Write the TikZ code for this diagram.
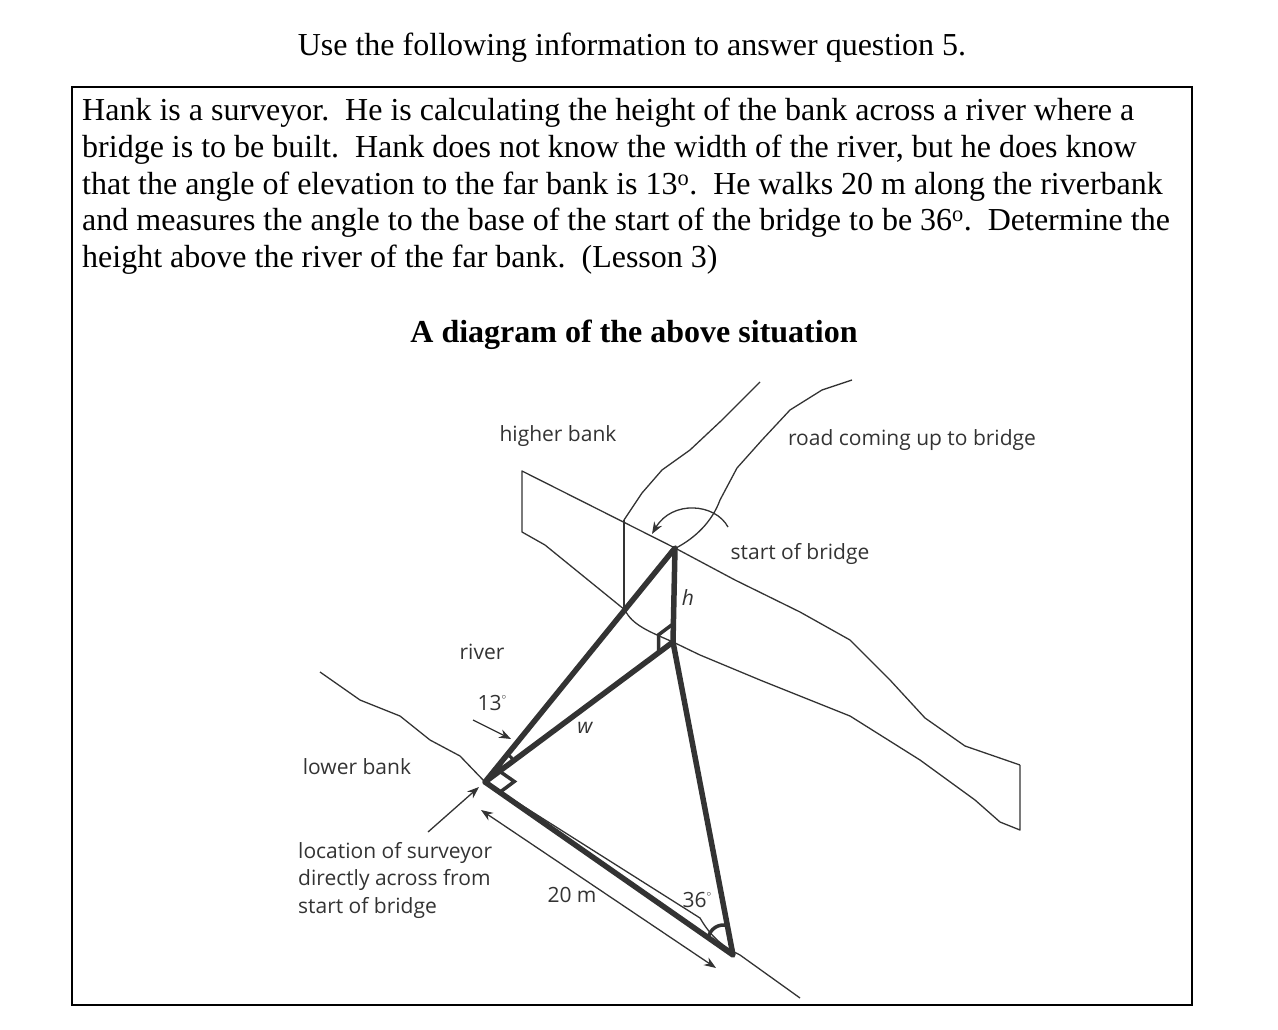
\documentclass[tikz,border=0pt]{standalone}
\usepackage{fontspec}
\setmainfont{Liberation Serif}
\newfontfamily\lab{Open Sans}
\usetikzlibrary{arrows.meta}
\begin{document}
\begin{tikzpicture}[x=1pt,y=-1pt,
  thin line/.style={line width=1.3pt,color=black!80,line join=round},
  thick line/.style={line width=5.5pt,color=black!80,line join=round},
  lbl/.style={font=\lab\fontsize{21}{24}\selectfont,color=black!80,inner sep=0pt},
  para/.style={anchor=west,inner sep=0pt,font=\fontsize{32}{34}\selectfont},
  arr/.style={thin line,-{Stealth[length=12pt,width=9pt]}}]
\useasboundingbox (0,0) rectangle (1278,1030);
\node[inner sep=0pt,font=\fontsize{32}{34}\selectfont] (title) at (632,48) {Use the following information to answer question 5.};
\draw[line width=2pt] (72,87) rectangle (1192,1005);
\node[para] (l1) at (82,113) {Hank is a surveyor.\ \ He is calculating the height of the bank across a river where a};
\node[para] (l2) at (82,150) {bridge is to be built.\ \ Hank does not know the width of the river, but he does know};
\node[para] (l3) at (82,187) {that the angle of elevation to the far bank is 13\textsuperscript{o}.\ \ He walks 20 m along the riverbank};
\node[para] (l4) at (82,223) {and measures the angle to the base of the start of the bridge to be 36\textsuperscript{o}.\ \ Determine the};
\node[para] (l5) at (82,260) {height above the river of the far bank.\ \ (Lesson 3)};
\node[inner sep=0pt,font=\bfseries\fontsize{32}{34}\selectfont] (sub) at (634,335) {A diagram of the above situation};
% geometry
\coordinate (S) at (675,548);
\coordinate (B) at (673,642);
\coordinate (P) at (485,782);
\coordinate (Q) at (733,955);
% higher bank
\draw[thin line] (675,548) -- (522,471) -- (522,532) -- (545,545) -- (625,610)
  .. controls (632,625) and (650,632) .. (673,642)
  -- (700,655) -- (760,680) -- (850,716) -- (920,760) -- (975,800) -- (1000,822) -- (1020,830) -- (1020,765);
\draw[thin line] (675,548) -- (735,580) -- (800,612) -- (850,640) -- (890,680) -- (925,718) -- (965,746) -- (1020,765);
\draw[thin line] (624,520) -- (624,610);
% road
\draw[thin line] (624,520) -- (642,493) -- (662,470) -- (690,450) -- (722,420) -- (760,382);
\draw[thin line] (676,548) .. controls (695,538) and (712,522) .. (720,500) -- (737,468) -- (762,440) -- (790,410) -- (822,390) -- (852,380);
\draw[arr] (728,527) .. controls (715,503) and (672,500) .. (652,534);
% lower bank
\draw[thin line] (320,672) -- (360,700) -- (400,716) -- (430,740) -- (460,756) -- (485,782)
  -- (700,918) .. controls (710,935) and (720,945) .. (740,955) -- (800,998);
% triangle
\draw[thick line] (P) -- (S) -- (B) -- cycle;
\draw[thick line] (B) -- (Q) -- (P);
\draw[line width=3.5pt,color=black!80] (499.5,771.2) -- (514.3,781.5) -- (499.8,792.3);
\draw[line width=3.5pt,color=black!80] (673,624) -- (658.5,634.8) -- (658.5,652.8);
\draw[line width=3pt,color=black!80] (507.1,754.8) to[bend left=30] (513.1,761.1);
\draw[line width=3.5pt,color=black!80] (708.4,937.8) to[bend left=50] (727.4,925.6);
% arrows
\draw[arr] (473,720) -- (511,739);
\draw[arr] (428,832) -- (479,787);
\draw[thin line,{Stealth[length=12pt,width=9pt]}-{Stealth[length=12pt,width=9pt]}] (481,810) -- (716,968);
% labels
\node[lbl] (hb) at (558,436) {higher bank};
\node[lbl] (road) at (912,440) {road coming up to bridge};
\node[lbl] (sob) at (800,554) {start of bridge};
\node[lbl] (h) at (688,598) {\itshape h};
\node[lbl] (riv) at (482,652) {river};
\node[lbl] (a13) at (492,703) {13\raisebox{0.55em}{\fontsize{9}{9}\selectfont$\circ$}};
\node[lbl] (w) at (585,728) {\itshape w};
\node[lbl] (lb) at (357,767) {lower bank};
\node[lbl,align=left,anchor=north west,font=\lab\fontsize{21}{27.5}\selectfont] (loc) at (298,842) {location of surveyor\\directly across from\\start of bridge};
\node[lbl] (m20) at (572,895) {20 m};
\node[lbl] (a36) at (697,900) {36\raisebox{0.55em}{\fontsize{9}{9}\selectfont$\circ$}};
\end{tikzpicture}
\end{document}
